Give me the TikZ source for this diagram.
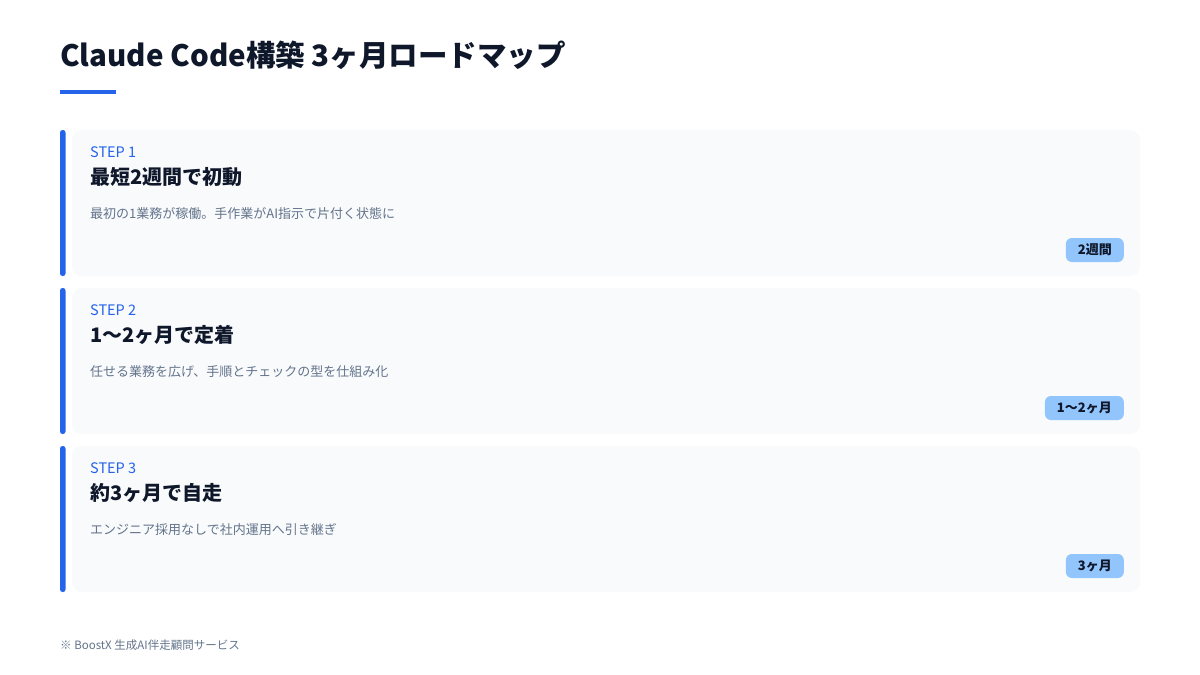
\documentclass[tikz,border=0pt]{standalone}
\usepackage{fontspec}
\setmainfont{Noto Sans CJK JP}
\usetikzlibrary{positioning}
\definecolor{stepblue}{HTML}{2563EB}
\definecolor{inkdark}{HTML}{0F172A}
\definecolor{inkgray}{HTML}{64748B}
\definecolor{cardbg}{HTML}{F8FAFC}
\definecolor{badgebg}{HTML}{93C5FD}
\tikzset{
  card/.style={fill=cardbg, rounded corners=10pt},
  accent/.style={fill=stepblue, rounded corners=2.5pt},
  txt/.style={anchor=base west, inner sep=0pt},
  steplabel/.style={txt, text=stepblue, font=\fontsize{14.5}{16}\selectfont},
  heading/.style={txt, text=inkdark, font=\fontsize{20}{24}\selectfont\bfseries},
  desc/.style={txt, text=inkgray, font=\fontsize{13}{15}\selectfont},
  badge/.style={anchor=east, fill=badgebg, text=inkdark, rounded corners=6pt,
    inner xsep=12pt, minimum height=24pt, font=\fontsize{13}{15}\selectfont\bfseries}
}
\begin{document}
\begin{tikzpicture}[x=1pt, y=-1pt]
\useasboundingbox[fill=white] (0,0) rectangle (1200,675);
\node[txt, text=inkdark, font=\fontsize{29.5}{32}\selectfont\bfseries] (title) at (60,66) {Claude Code構築 3ヶ月ロードマップ};
\fill[stepblue] (60,90) rectangle (116,94);
\foreach \i/\head/\text/\len in {1/最短2週間で初動/最初の1業務が稼働。手作業がAI指示で片付く状態に/2週間,
    2/1〜2ヶ月で定着/任せる業務を広げ、手順とチェックの型を仕組み化/1〜2ヶ月,
    3/約3ヶ月で自走/エンジニア採用なしで社内運用へ引き継ぎ/3ヶ月}{
  \pgfmathsetmacro{\y}{130+158*(\i-1)}
  \fill[card] (72,\y) rectangle (1140,\y+146);
  \fill[accent] (60,\y) rectangle (65.5,\y+146);
  \node[steplabel] (step\i) at (90,\y+27) {STEP \i};
  \node[heading] (head\i) at (90,\y+54) {\head};
  \node[desc] (desc\i) at (90,\y+88) {\text};
  \node[badge] (badge\i) at (1124,\y+120) {\len};
}
\node[txt, text=inkgray, font=\fontsize{11.5}{14}\selectfont] (note) at (60,649) {※ BoostX 生成AI伴走顧問サービス};
\end{tikzpicture}
\end{document}
